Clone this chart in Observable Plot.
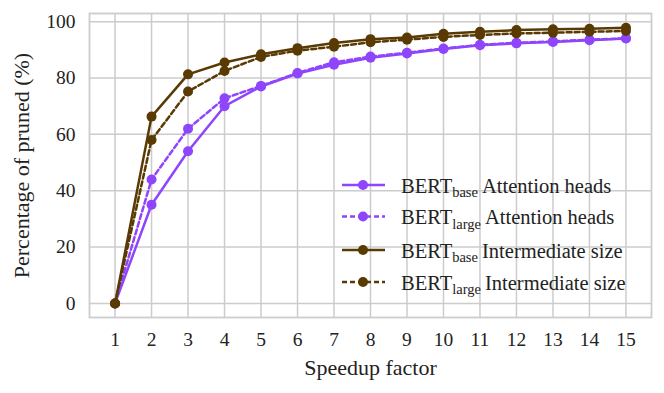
<!DOCTYPE html>
<html>
<head>
<meta charset="utf-8">
<script src="https://cdn.jsdelivr.net/npm/d3@7"></script>
<script src="https://cdn.jsdelivr.net/npm/@observablehq/plot@0.6"></script>
<style>
html,body{margin:0;padding:0;background:#fff;}
#chart{width:664px;height:393px;}
#chart svg, #chart svg text { font-family: "Liberation Serif", "Times New Roman", Times, serif !important; }
</style>
</head>
<body>
<div id="chart"></div>
<script>
const speedup = [1,2,3,4,5,6,7,8,9,10,11,12,13,14,15];
const baseHeads  = [0,35,54,70,77,81.6,84.7,87.2,88.7,90.3,91.6,92.3,92.8,93.4,94.0];
const largeHeads = [0,44,62,72.8,77.2,81.8,85.6,87.6,89.0,90.5,91.8,92.5,93.0,93.6,94.1];
const baseInter  = [0,66.3,81.3,85.5,88.4,90.6,92.4,93.8,94.4,95.7,96.4,97.0,97.3,97.5,97.8];
const largeInter = [0,58,75.2,82.5,87.5,89.7,91.1,92.7,93.6,94.6,95.3,95.8,96.1,96.4,96.7];
const yTicks = [0,20,40,60,80,100];

const seriesNames = ["baseHeads","largeHeads","baseInter","largeInter"];
const seriesModel = ["base","large","base","large"];
const seriesPart = ["Attention heads","Attention heads","Intermediate size","Intermediate size"];
const seriesColor = ["#8f45fb","#8f45fb","#5a3a03","#5a3a03"];
const seriesDash = [null,"5,3",null,"5,3"];
const seriesValues = [baseHeads, largeHeads, baseInter, largeInter];

const rows = [];
seriesValues.forEach((vals, si) => vals.forEach((v, i) => rows.push({s: seriesNames[si], si, x: speedup[i], y: v})));

const font = "Liberation Serif";
const marks = [
  Plot.gridX(speedup, {stroke:"#cccccc", strokeOpacity:1, strokeWidth:1.5}),
  Plot.gridY(yTicks, {stroke:"#cccccc", strokeOpacity:1, strokeWidth:1.5}),
  Plot.frame({stroke:"#cccccc", strokeWidth:1.8}),
  Plot.axisX(speedup, {tickSize:0, tickPadding:15, fontSize:19.5, label:"Speedup factor", labelAnchor:"center", labelArrow:"none", labelOffset:57, tickFormat:d=>String(d)}),
  Plot.axisY(yTicks, {tickSize:0, tickPadding:14, fontSize:19.5, label:"Percentage of pruned (%)", labelAnchor:"center", labelArrow:"none", labelOffset:76})
];
[0,1,2,3].forEach(si => {
  const d = rows.filter(r => r.si === si);
  marks.push(Plot.line(d, {x:"x", y:"y", stroke:seriesColor[si], strokeWidth:2.5, strokeDasharray:seriesDash[si] || undefined}));
  marks.push(Plot.dot(d, {x:"x", y:"y", fill:seriesColor[si], r:5, stroke:"none"}));
});

const chart = Plot.plot({
  width:664, height:393,
  marginLeft:89, marginRight:13, marginTop:13, marginBottom:76,
  style:{fontFamily:font, fontSize:"19.5px", color:"#222", background:"#fff", overflow:"visible"},
  x:{domain:[0.3,15.7]},
  y:{domain:[-5,102.9]},
  marks
});
document.getElementById("chart").appendChild(chart);

d3.select(chart).selectAll("g[aria-label='x-axis label'] text, g[aria-label='y-axis label'] text").style("font-size","22px");

// legend
const svg = d3.select(chart);
const lg = svg.append("g").attr("fill","#222").attr("text-anchor","start");
const lineY = [185, 216.5, 250, 282];
seriesNames.forEach((n, i) => {
  const y = lineY[i];
  lg.append("line").attr("x1",342).attr("x2",385).attr("y1",y).attr("y2",y)
    .attr("stroke",seriesColor[i]).attr("stroke-width",2.5)
    .attr("stroke-dasharray", seriesDash[i] || null);
  lg.append("circle").attr("cx",363).attr("cy",y).attr("r",5).attr("fill",seriesColor[i]);
  const t = lg.append("text").attr("x",401).attr("y",y+7.5).attr("font-size","20.5px").attr("text-anchor","start");
  t.append("tspan").text("BERT");
  t.append("tspan").attr("font-size","14.5px").attr("dy",4.5).text(seriesModel[i]);
  t.append("tspan").attr("dy",-4.5).text("\u2009" + seriesPart[i]);
});
</script>
</body>
</html>
